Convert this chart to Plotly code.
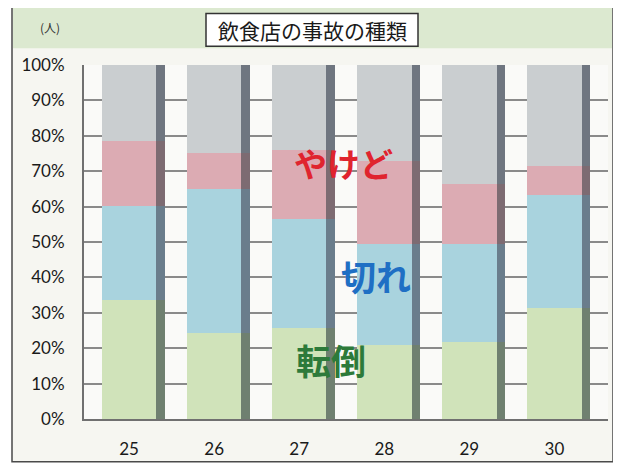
import plotly.graph_objects as go

years = ["25", "26", "27", "28", "29", "30"]
# shares (fraction of total)
tentou = [0.336, 0.243, 0.257, 0.210, 0.218, 0.313]   # 転倒
kire = [0.267, 0.407, 0.308, 0.285, 0.277, 0.321]     # 切れ
yakedo = [0.182, 0.102, 0.195, 0.234, 0.169, 0.081]   # やけど
sonota = [0.215, 0.248, 0.240, 0.271, 0.336, 0.285]   # その他

series = [
    ("転倒", tentou, "#d0e3ba", "#6f8070"),
    ("切れ", kire, "#a9d3de", "#6a7d8c"),
    ("やけど", yakedo, "#dcabb3", "#7d6b72"),
    ("その他", sonota, "#caced0", "#6f7680"),
]

fig = go.Figure()
for name, vals, col, side in series:
    fig.add_trace(go.Bar(x=years, y=vals, name=name, width=0.64,
                         marker=dict(color=col, line=dict(width=0)),
                         xaxis="x", yaxis="y", showlegend=False))
for name, vals, col, side in series:
    fig.add_trace(go.Bar(x=years, y=vals, name=name, width=0.1, offset=0.32,
                         marker=dict(color=side, line=dict(width=0)),
                         xaxis="x2", yaxis="y", showlegend=False,
                         hoverinfo="skip"))

xr = [-0.53, 5.63]
OFF = 8  # page body margin
W, H = 621 - OFF, 471 - OFF
# plot area in page pixels: x 84..608, y 65..422
PL, PR, PT, PB = 84, 608, 65, 422
ml, mr, mt, mb = PL - OFF, W - (PR - OFF), PT - OFF, H - (PB - OFF)
pw, ph = PR - PL, PB - PT


def px(x):
    return (x - PL) / pw


def py(y):
    return (PB - y) / ph


shapes = [
    # outer frame
    dict(type="rect", xref="paper", yref="paper", x0=px(12), x1=px(613), y0=py(465), y1=py(3),
         fillcolor="#f6f6f1", line=dict(color="#4a4a4a", width=1.5), layer="below"),
    # header band
    dict(type="rect", xref="paper", yref="paper", x0=px(13), x1=px(612), y0=py(48), y1=py(4),
         fillcolor="#dce9d0", line=dict(width=0), layer="below"),
    # plot area background
    dict(type="rect", xref="paper", yref="paper", x0=0, x1=1, y0=0, y1=1,
         fillcolor="#fafaf8", line=dict(width=0), layer="below"),
    # title box
    dict(type="rect", xref="paper", yref="paper", x0=px(206), x1=px(418), y0=py(46), y1=py(13),
         fillcolor="#ffffff", line=dict(color="#333333", width=1.5), layer="above"),
]

annotations = [
    dict(xref="paper", yref="paper", x=px(312), y=py(29.5), text="飲食店の事故の種類",
         xanchor="center", yanchor="middle", showarrow=False,
         font=dict(family="Noto Sans CJK JP", size=21, color="#1a1a1a")),
    dict(xref="paper", yref="paper", x=px(50), y=py(27), text="(人)",
         xanchor="center", yanchor="middle", showarrow=False,
         font=dict(family="Noto Sans CJK JP", size=12, color="#333333")),
    dict(xref="x", yref="y", x=2.515, y=0.723, text="<b>やけど</b>", showarrow=False,
         xanchor="center", yanchor="middle",
         font=dict(family="Noto Sans CJK JP", size=33, color="#e0242e")),
    dict(xref="x", yref="y", x=2.90, y=0.406, text="<b>切れ</b>", showarrow=False,
         xanchor="center", yanchor="middle",
         font=dict(family="Noto Sans CJK JP", size=35, color="#1f6fc4")),
    dict(xref="x", yref="y", x=2.374, y=0.169, text="<b>転倒</b>", showarrow=False,
         xanchor="center", yanchor="middle",
         font=dict(family="Noto Sans CJK JP", size=35, color="#2d7a3a")),
]

fig.update_layout(
    width=W, height=H,
    margin=dict(l=ml, r=mr, t=mt, b=mb, pad=0),
    paper_bgcolor="#ffffff",
    plot_bgcolor="rgba(0,0,0,0)",
    barmode="stack",
    bargap=0,
    showlegend=False,
    shapes=shapes,
    annotations=annotations,
    font=dict(family="Lato", size=17, color="#1a1a1a"),
    xaxis=dict(type="category", range=xr, showgrid=False, zeroline=False,
               showline=True, linecolor="#707070", linewidth=2,
               ticks="", ticklabelstandoff=14,
               tickfont=dict(family="Lato", size=17, color="#1a1a1a")),
    xaxis2=dict(type="category", range=xr, overlaying="x", matches="x",
                visible=False),
    yaxis=dict(range=[0, 1], dtick=0.1, tickformat=".0%", showgrid=True,
               gridcolor="#8a8a8a", gridwidth=2, zeroline=False,
               showline=True, linecolor="#707070", linewidth=2,
               ticks="", ticklabelstandoff=14,
               tickfont=dict(family="Lato", size=17, color="#1a1a1a")),
)

fig.write_html("out.html")
